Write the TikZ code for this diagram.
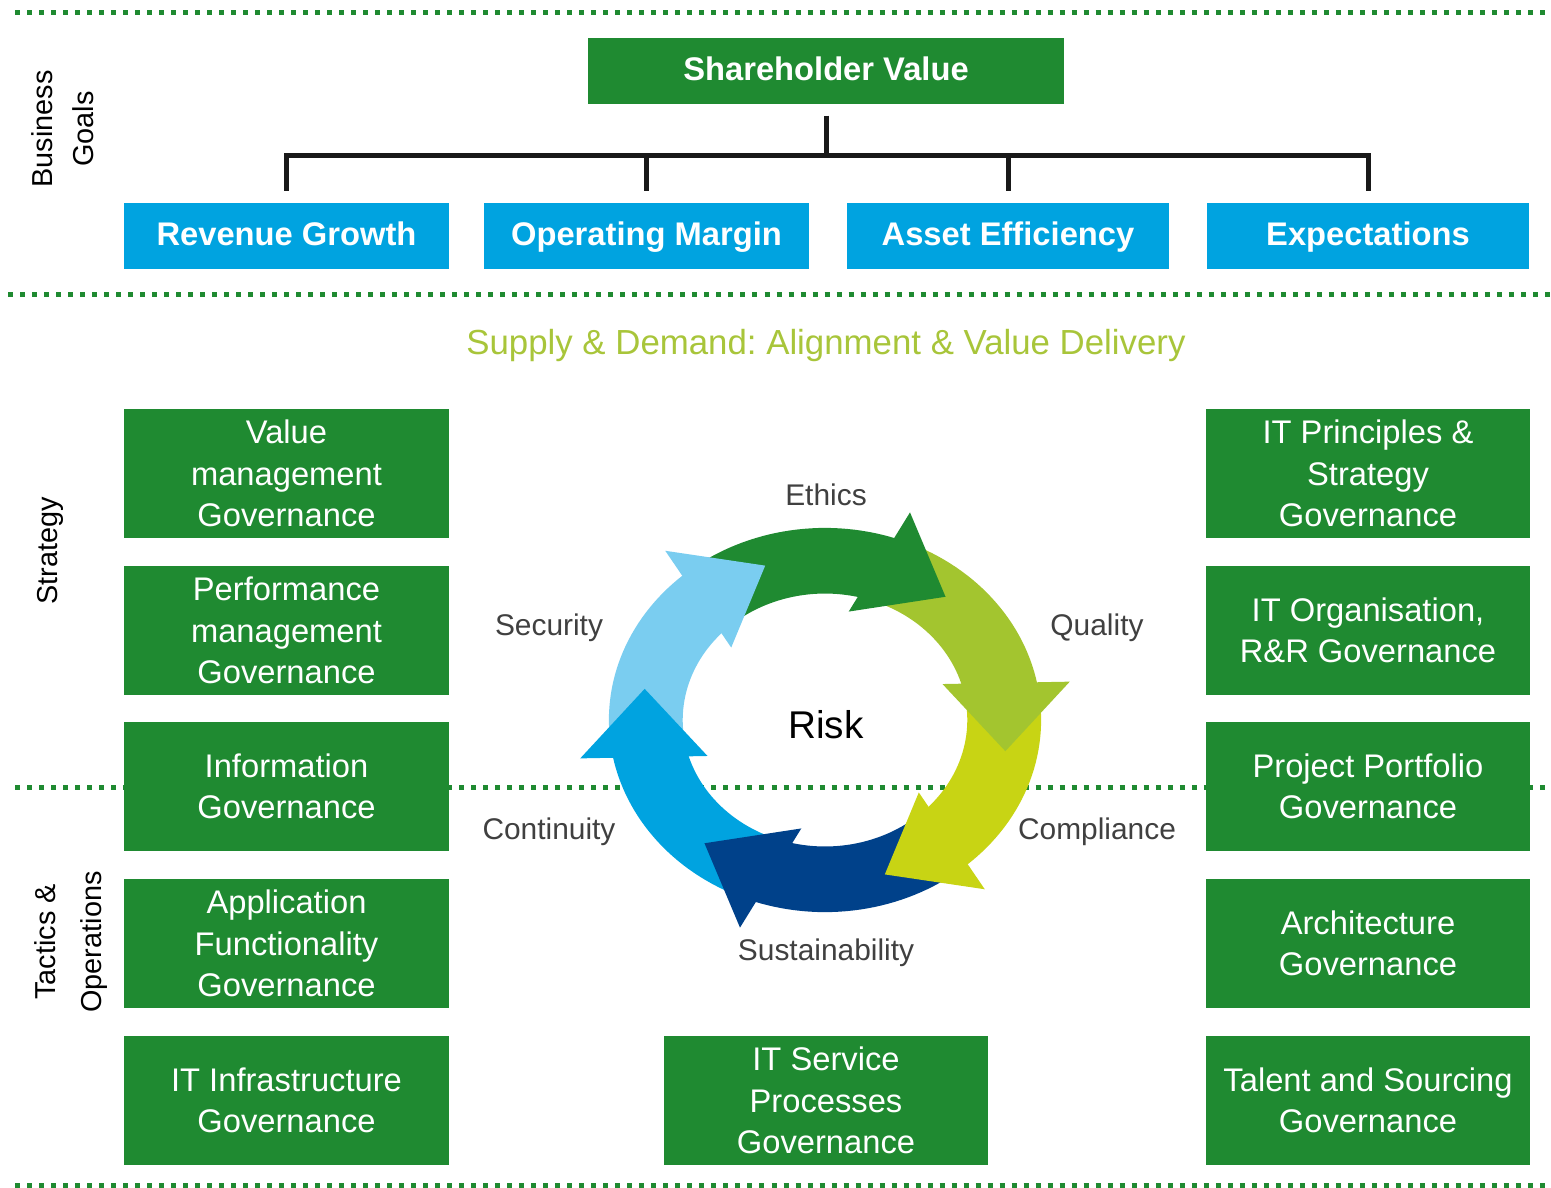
\documentclass[tikz,border=0pt]{standalone}
\usepackage{fontspec}
\setmainfont{Liberation Sans}
\usetikzlibrary{positioning}
\frenchspacing

\definecolor{vert}{RGB}{31,138,49}
\definecolor{bleu}{RGB}{0,163,224}
\definecolor{ciel}{RGB}{122,205,240}
\definecolor{marine}{RGB}{0,65,138}
\definecolor{lime}{RGB}{163,197,47}
\definecolor{jaune}{RGB}{200,212,20}
\definecolor{titre}{RGB}{168,197,58}
\definecolor{gris}{RGB}{64,64,64}

\tikzset{
	boite/.style={fill=vert, text=white, minimum width=3.24cm, minimum height=1.29cm, inner sep=0pt, align=center, font=\fontsize{9.3}{11.8}\selectfont},
	objectif/.style={fill=bleu, text=white, minimum width=3.24cm, minimum height=0.66cm, inner sep=0pt, text height=0.24cm, text depth=0.06cm, font=\fontsize{9.3}{11.8}\selectfont\bfseries},
	pointille/.style={vert, line width=0.05cm, dash pattern=on 0.05cm off 0.07cm},
	arbre/.style={black!90, line width=0.05cm},
	etiquette/.style={text=gris, font=\fontsize{8.5}{11}\selectfont},
	cote/.style={rotate=90, align=center},
}

\begin{document}
\begin{tikzpicture}[x=0.01cm, y=-0.01cm]
				\useasboundingbox (0,0) rectangle (1551,1187);

				% lignes pointillees
				\draw[pointille] (15,12) -- (1551,12);
				\draw[pointille] (8,294) -- (1551,294);
				\draw[pointille] (15,787) -- (1551,787);
				\draw[pointille] (15,1185) -- (1551,1185);

				% objectifs
				\node[objectif, fill=vert, minimum width=4.76cm] (sv) at (826,71) {Shareholder Value};
				\node[objectif, minimum width=3.25cm] (rg) at (286.5,236) {Revenue Growth};
				\node[objectif, minimum width=3.25cm] (om) at (646.5,236) {Operating Margin};
				\node[objectif, minimum width=3.22cm] (ae) at (1008,236) {Asset Efficiency};
				\node[objectif, minimum width=3.22cm] (ex) at (1368,236) {Expectations};

				% arbre
				\coordinate (noeud) at (826,155);
				\draw[arbre, shorten <=0.11cm] (sv) -- (noeud);
				\foreach \n in {rg,om,ae,ex}
					\draw[arbre, shorten >=0.11cm] (noeud) -| (\n.north);

				% cotes
				\node[cote, font=\fontsize{8.2}{11.6}\selectfont] (affaires) at (63,129) {Business\\Goals};
				\node[cote, font=\fontsize{8.2}{11.6}\selectfont] (strategie) at (50,551) {Strategy};
				\node[cote, font=\fontsize{8.2}{13.3}\selectfont] (tactique) at (71,942) {Tactics \&\\Operations};

				% titre
				\node[text=titre, font=\fontsize{9.9}{12}\selectfont] (offre) at (826,345) {Supply \& Demand: Alignment \& Value Delivery};

				% colonne gauche
				\node[boite] (valeur) at (286.5,473.5) {Value\\management\\Governance};
				\node[boite] (perf) at (286.5,630.5) {Performance\\management\\Governance};
				\node[boite] (info) at (286.5,786.5) {Information\\Governance};
				\node[boite] (appli) at (286.5,943.5) {Application\\Functionality\\Governance};
				\node[boite] (infra) at (286.5,1100.5) {IT Infrastructure\\Governance};

				% colonne droite
				\node[boite] (principes) at (1368,473.5) {IT Principles \&\\Strategy\\Governance};
				\node[boite] (orga) at (1368,630.5) {IT Organisation,\\R\&R Governance};
				\node[boite] (projet) at (1368,786.5) {Project Portfolio\\Governance};
				\node[boite] (archi) at (1368,943.5) {Architecture\\Governance};
				\node[boite] (talent) at (1368,1100.5) {Talent and Sourcing\\Governance};

				% milieu
				\node[boite] (service) at (826,1100.5) {IT Service\\Processes\\Governance};

				% cycle
				\begin{scope}[shift={(825,720)}, x=1.8cm, y=1.6cm]
					\foreach \t/\c in {49/vert, -11/lime, -71/jaune, -131/marine, -191/bleu, -251/ciel}{
						\pgfmathsetmacro\queueext{\t+75}
						\pgfmathsetmacro\finext{\t+20}
						\pgfmathsetmacro\finint{\t+26}
						\pgfmathsetmacro\queueint{\t+84}
						\fill[\c] plot[domain=\queueext:\finext, samples=30] (\x:1.2) -- plot[domain=\finint:\queueint, samples=30] (\x:0.79) -- cycle;
					}
					\foreach \t/\c in {49/vert, -11/lime, -71/jaune, -131/marine, -191/bleu, -251/ciel}
						\fill[\c] (\t:1.02) -- (\t+21:1.38) -- (\t+30:0.69) -- cycle;
				\end{scope}

				% etiquettes du cycle
				\node[font=\fontsize{11}{13}\selectfont] (risque) at (826,725) {Risk};
				\node[etiquette] (ethique) at (826,495) {Ethics};
				\node[etiquette] (qualite) at (1097,628) {Quality};
				\node[etiquette] (conformite) at (1097,832) {Compliance};
				\node[etiquette] (durabilite) at (826,953) {Sustainability};
				\node[etiquette] (continuite) at (549,832) {Continuity};
				\node[etiquette] (securite) at (549,628) {Security};
			\end{tikzpicture}
\end{document}
